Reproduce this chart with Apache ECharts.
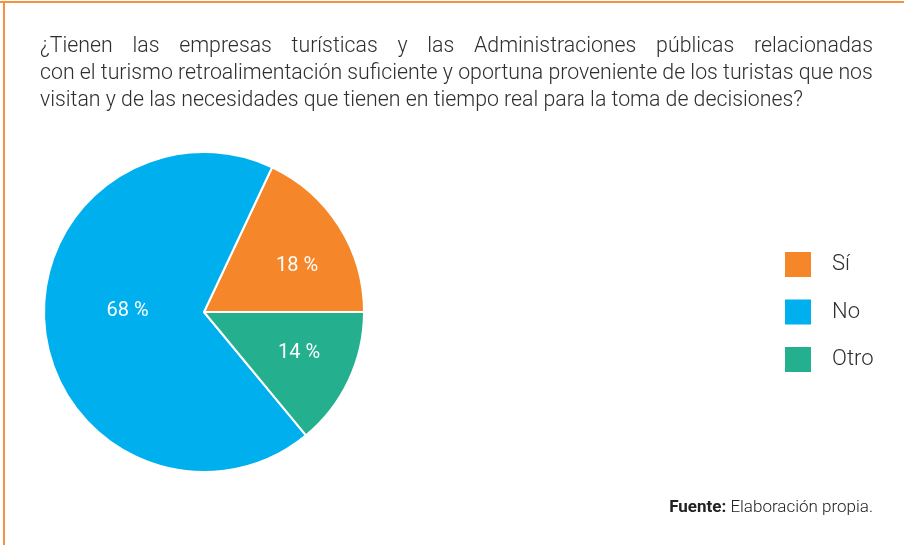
<!DOCTYPE html>
<html>
<head>
<meta charset="utf-8">
<script src="https://cdn.jsdelivr.net/npm/echarts@6/dist/echarts.min.js"></script>
<style>
  html, body { margin: 0; padding: 0; background: #fff; }
  #chart { width: 904px; height: 545px; }
</style>
</head>
<body>
<div id="chart"></div>
<script>
// Survey answers and their shares (%)
const categories = ['Sí', 'No', 'Otro'];
const shares = [18, 68, 14];
const colors = ['#F5872A', '#00B0EE', '#24B08F'];

const questionLines = [
  '¿Tienen las empresas turísticas y las Administraciones públicas relacionadas',
  'con el turismo retroalimentación suficiente y oportuna proveniente de los turistas que nos',
  'visitan y de las necesidades que tienen en tiempo real para la toma de decisiones?'
];
const sourceLabel = 'Fuente:';
const sourceText = 'Elaboración propia.';

const FONT = 'Roboto, "Liberation Sans", Arial, sans-serif';
const textColor = '#2e2e2e';

// Measure text so the first line of the question can be justified word by word
const measureCtx = document.createElement('canvas').getContext('2d');
function textWidth(str, size, weight) {
  measureCtx.font = (weight || 'normal') + ' ' + size + 'px ' + FONT;
  return measureCtx.measureText(str).width;
}

const titleSize = 21.3;
const titleWeight = 300;
const titleLeft = 40;
const titleRight = 873;
const lineTops = [36, 63, 90];

const graphics = [];
// Frame lines along the top and left edges
graphics.push({ type: 'rect', shape: { x: 0, y: 1, width: 904, height: 2 }, style: { fill: '#F5923E' } });
graphics.push({ type: 'rect', shape: { x: 3, y: 1, width: 2, height: 544 }, style: { fill: '#F5923E' } });

const titleFont = titleWeight + ' ' + titleSize + 'px ' + FONT;
// First line justified across the full text width
(function () {
  const words = questionLines[0].split(' ');
  const widths = words.map(w => textWidth(w, titleSize, titleWeight));
  const total = widths.reduce((a, b) => a + b, 0);
  const gap = (titleRight - titleLeft - total) / (words.length - 1);
  let x = titleLeft;
  words.forEach((w, i) => {
    graphics.push({
      type: 'text', left: x, top: lineTops[0],
      style: { text: w, fill: textColor, font: titleFont }
    });
    x += widths[i] + gap;
  });
})();
for (let i = 1; i < questionLines.length; i++) {
  graphics.push({
    type: 'text', left: titleLeft, top: lineTops[i],
    style: { text: questionLines[i], fill: textColor, font: titleFont }
  });
}

// Source note, bottom right
const srcSize = 17;
const srcW = textWidth(sourceLabel, srcSize, 'bold') + textWidth(' ' + sourceText, srcSize, 300);
graphics.push({
  type: 'text', left: 873 - srcW, top: 499,
  style: {
    text: '{b|' + sourceLabel + '}{n| ' + sourceText + '}',
    rich: {
      b: { fontWeight: 'bold', fontSize: srcSize, fontFamily: FONT, fill: '#222' },
      n: { fontWeight: 300, fontSize: srcSize, fontFamily: FONT, fill: '#222' }
    }
  }
});

// Small nudges of the in-slice labels
const labelNudge = [[23, -2], [6, -11], [20, 6]];

const chart = echarts.init(document.getElementById('chart'), null, { renderer: 'canvas' });
chart.setOption({
  animation: false,
  color: colors,
  legend: {
    orient: 'vertical',
    left: 785,
    top: 252,
    padding: 0,
    itemWidth: 26,
    itemHeight: 25,
    itemGap: 22.5,
    icon: 'rect',
    data: categories,
    itemStyle: { borderWidth: 0 },
    textStyle: { fontSize: 22, fontWeight: 300, lineHeight: 25, color: textColor, fontFamily: FONT, padding: [0, 0, 0, 16] },
    selectedMode: false
  },
  graphic: graphics,
  series: [{
    type: 'pie',
    center: [204, 312],
    radius: [0, 160],
    startAngle: 0,
    clockwise: false,
    silent: true,
    itemStyle: { borderColor: '#fff', borderWidth: 2 },
    label: {
      show: true,
      position: 'inside',
      formatter: p => p.value + ' %',
      color: '#fff',
      fontSize: 20,
      fontFamily: FONT
    },
    labelLine: { show: false },
    labelLayout: p => ({ dx: labelNudge[p.dataIndex][0], dy: labelNudge[p.dataIndex][1] }),
    data: categories.map((c, i) => ({ name: c, value: shares[i] }))
  }]
});
</script>
</body>
</html>
